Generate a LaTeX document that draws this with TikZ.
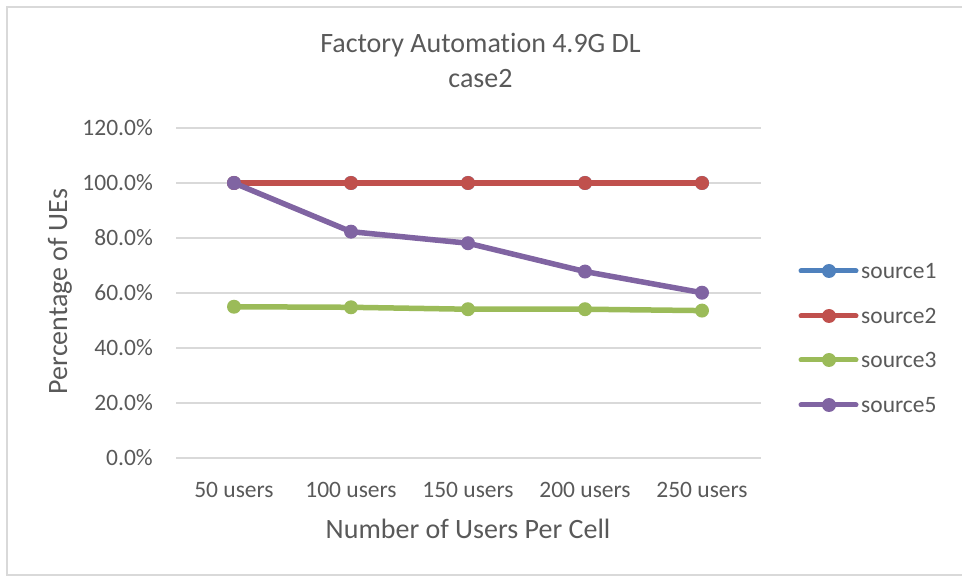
\documentclass[tikz,border=0pt]{standalone}
\usepackage{fontspec}
\setmainfont{Carlito}[Ligatures=NoCommon]
\usetikzlibrary{positioning}
\definecolor{txtgray}{HTML}{595959}
\definecolor{gridgray}{HTML}{D9D9D9}
\definecolor{srcone}{HTML}{4F81BD}
\definecolor{srctwo}{HTML}{C0504D}
\definecolor{srcthree}{HTML}{9BBB59}
\definecolor{srcfive}{HTML}{8064A2}
\tikzstyle{series}=[line width=5.5pt,line join=round]
\tikzstyle{keyline}=[line width=5pt,line cap=round]
\tikzstyle{marker}=[circle,inner sep=0pt,minimum size=14pt]
\tikzstyle{ticklabel}=[text=txtgray,inner sep=0pt,font=\fontsize{23.5}{28}\selectfont]
\tikzstyle{axistitle}=[text=txtgray,inner sep=0pt,font=\fontsize{28}{34}\selectfont]

\begin{document}
\begin{tikzpicture}[x=1pt,y=-1pt]
  \useasboundingbox (0,0) rectangle (962,577);
  \draw[gridgray,line width=1.5pt] (966,7) -- (7,7) -- (7,575) -- (966,575);

  % title
  \node[axistitle,anchor=base] (title1) at (480.5,53) {Factory Automation 4.9G DL};
  \node[axistitle,anchor=base] (title2) at (480.5,88) {case2};

  % value axis
  \foreach \v in {0,20,...,120}{
    \draw[gridgray,line width=1.5pt] (176,458-2.75*\v) -- (761,458-2.75*\v);
    \node[ticklabel,anchor=east] (tick\v) at (153,458-2.75*\v) {\v.0\%};
  }
  \node[axistitle,rotate=90] (ytitle) at (60,291.5) {Percentage of UEs};

  % category axis
  \foreach \n [count=\i] in {50,100,150,200,250}
    \node[ticklabel,anchor=base] (cat\i) at (117+117*\i,497) {\n{} users};
  \node[axistitle,anchor=base] (xtitle) at (468,538) {Number of Users Per Cell};

  % data points
  \foreach \i in {1,...,5}{
    \coordinate (s1-\i) at (117+117*\i,183);
    \coordinate (s2-\i) at (117+117*\i,183);
  }
  \foreach \v [count=\i] in {55.0,54.8,54.1,54.1,53.6}
    \coordinate (s3-\i) at (117+117*\i,458-2.75*\v);
  \foreach \v [count=\i] in {100,82.3,78.1,67.8,60.1}
    \coordinate (s5-\i) at (117+117*\i,458-2.75*\v);

  % series lines and markers
  \foreach \s/\c in {1/srcone,2/srctwo,3/srcthree,5/srcfive}{
    \draw[series,\c] (s\s-1) -- (s\s-2) -- (s\s-3) -- (s\s-4) -- (s\s-5);
    \foreach \i in {1,...,5}
      \node[marker,fill=\c] (m\s-\i) at (s\s-\i) {};
  }

  % legend
  \foreach \s/\c/\y in {1/srcone/271,2/srctwo/316,3/srcthree/360,5/srcfive/405}{
    \coordinate (ka\s) at (801,\y);
    \coordinate (kb\s) at (856,\y);
    \draw[keyline,\c] (ka\s) -- (kb\s);
    \node[marker,fill=\c] (km\s) at (829,\y) {};
    \node[ticklabel,anchor=west] (key\s) at (861,\y) {source\s};
  }
\end{tikzpicture}
\end{document}
